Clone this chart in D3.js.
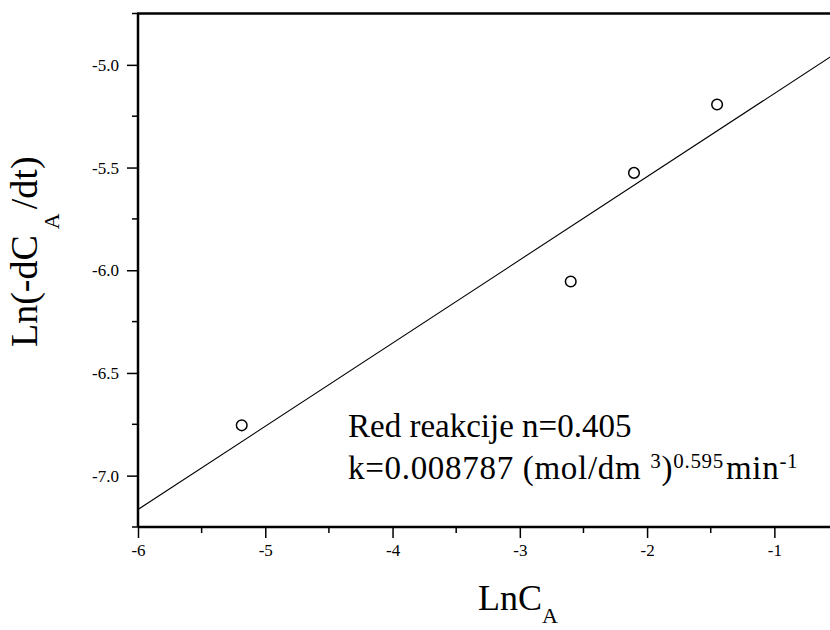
<!DOCTYPE html>
<html>
<head>
<meta charset="utf-8">
<script src="https://cdn.jsdelivr.net/npm/d3@7"></script>
<style>
  html, body { margin: 0; padding: 0; background: #fff; }
  svg { display: block; }
  text { font-family: "Liberation Serif", "Times New Roman", Times, serif; fill: #000; }
</style>
</head>
<body>
<svg id="chart" width="830" height="630"></svg>
<script>
// Measured points: ln of concentration vs ln of reaction rate
const lnCA = [-5.185, -2.60, -2.103, -1.45];
const lnRate = [-6.755, -6.055, -5.526, -5.193];

// Fitted power-law rate: ln(r) = ln(k) + n * ln(CA)
const orderN = 0.405;
const rateK = 0.008787;

const xMajorTicks = [-6, -5, -4, -3, -2, -1];
const xMinorTicks = [-5.5, -4.5, -3.5, -2.5, -1.5];
const yMajorTicks = [-7.0, -6.5, -6.0, -5.5, -5.0];
const yMinorTicks = [-7.25, -6.75, -6.25, -5.75, -5.25, -4.75];

const svg = d3.select("#chart");
const plotL = 138, plotR = 838, plotT = 13.5, plotB = 527;

const x = d3.scaleLinear().domain([-6, -0.5]).range([plotL, plotR]);
const y = d3.scaleLinear().domain([-7.25, -4.75]).range([plotB, plotT]);

const defs = svg.append("defs");
defs.append("clipPath").attr("id", "plot-clip")
  .append("rect").attr("x", plotL).attr("y", plotT)
  .attr("width", plotR - plotL).attr("height", plotB - plotT);

// Fitted line
const lnK = Math.log(rateK);
const fitX = [x.domain()[0], x.domain()[1]];
svg.append("path")
  .attr("clip-path", "url(#plot-clip)")
  .attr("d", d3.line().x(d => x(d)).y(d => y(lnK + orderN * d))(fitX))
  .attr("fill", "none").attr("stroke", "#000").attr("stroke-width", 1.1);

// Data points
svg.append("g").selectAll("circle")
  .data(lnCA.map((v, i) => [v, lnRate[i]]))
  .join("circle")
  .attr("cx", d => x(d[0])).attr("cy", d => y(d[1]))
  .attr("r", 5.3)
  .attr("fill", "none").attr("stroke", "#000").attr("stroke-width", 1.5);

// Axes
const xAxis = svg.append("g").attr("transform", `translate(0,${plotB})`)
  .call(d3.axisBottom(x).tickValues(xMajorTicks).tickSize(11).tickPadding(6)
    .tickFormat(d3.format("d")));
xAxis.append("g").selectAll("line").data(xMinorTicks).join("line")
  .attr("x1", d => x(d)).attr("x2", d => x(d)).attr("y1", 0).attr("y2", 6);

const yAxis = svg.append("g").attr("transform", `translate(${plotL},0)`)
  .call(d3.axisLeft(y).tickValues(yMajorTicks).tickSize(11).tickPadding(8)
    .tickFormat(d3.format(".1f")));
yAxis.append("g").selectAll("line").data(yMinorTicks).join("line")
  .attr("y1", d => y(d)).attr("y2", d => y(d)).attr("x1", 0).attr("x2", -6);

[xAxis, yAxis].forEach(g => {
  g.select(".domain").attr("stroke", "#000").attr("stroke-width", 2.5);
  g.selectAll("line").attr("stroke", "#000").attr("stroke-width", 1.5);
  g.selectAll(".tick text").attr("font-size", 17)
    .attr("font-family", "'Liberation Serif', 'Times New Roman', serif")
    .text(function () { return this.textContent.replace("\u2212", "-"); });
});
xAxis.select(".domain").attr("d", `M${plotL},0H${plotR}`);
yAxis.select(".domain").attr("d", `M0,${plotB}V${plotT}`);

// Top frame line
svg.append("line")
  .attr("x1", plotL - 1).attr("x2", plotR).attr("y1", plotT).attr("y2", plotT)
  .attr("stroke", "#000").attr("stroke-width", 2.5);

// Axis titles
const xt = svg.append("text").attr("x", 478).attr("y", 610).attr("font-size", 36);
xt.append("tspan").text("LnC");
xt.append("tspan").attr("font-size", 22).attr("dy", 13).text("A");

const yt = svg.append("text").attr("transform", "translate(37,347) rotate(-90)")
  .attr("font-size", 38);
yt.append("tspan").text("Ln(-dC");
yt.append("tspan").attr("font-size", 22).attr("dy", 22).attr("dx", 6).text("A");
yt.append("tspan").attr("dy", -22).attr("dx", 4).text("/dt)");

// Fit results
svg.append("text").attr("x", 348).attr("y", 437).attr("font-size", 33)
  .text(`Red reakcije n=${orderN}`);

const kt = svg.append("text").attr("x", 348).attr("y", 479).attr("font-size", 33)
  .attr("letter-spacing", 0.7);
kt.append("tspan").text(`k=${rateK} (mol/dm `);
kt.append("tspan").attr("font-size", 21).attr("dy", -11).text("3");
kt.append("tspan").attr("dy", 11).text(")");
kt.append("tspan").attr("font-size", 21).attr("dy", -11).text((1 - orderN).toFixed(3));
kt.append("tspan").attr("dy", 11).attr("dx", 2).text("min");
kt.append("tspan").attr("font-size", 21).attr("dy", -11).text("-1");
</script>
</body>
</html>
